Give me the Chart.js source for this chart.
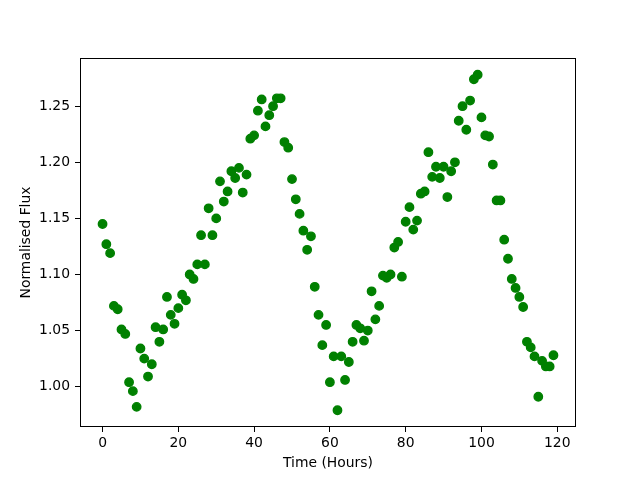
<!DOCTYPE html>
<html>
<head>
<meta charset="utf-8">
<title>Normalised Flux</title>
<script src="https://cdn.jsdelivr.net/npm/chart.js@4.4.0/dist/chart.umd.min.js"></script>
<style>
    body { margin: 0; background: #ffffff; }
    #myChart { display: block; }
</style>
</head>
<body>
<canvas id="myChart" width="640" height="480"></canvas>
<script>
//data
var hours = [0,1,2,3,4,5,6,7,8,9,10,11,12,13,14,15,16,17,18,19,
    20,21,22,23,24,25,26,27,28,29,30,31,32,33,34,35,36,37,38,39,
    40,41,42,43,44,45,46,47,48,49,50,51,52,53,54,55,56,57,58,59,
    60,61,62,63,64,65,66,67,68,69,70,71,72,73,74,75,76,77,78,79,
    80,81,82,83,84,85,86,87,88,89,90,91,92,93,94,95,96,97,98,99,
    100,101,102,103,104,105,106,107,108,109,110,111,112,113,114,115,116,117,118,119]
var flux = [1.145,1.127,1.119,1.072,1.069,1.051,1.047,1.004,0.996,0.982,
    1.034,1.025,1.009,1.020,1.053,1.040,1.051,1.080,1.064,1.056,
    1.070,1.082,1.077,1.100,1.096,1.109,1.135,1.109,1.159,1.135,
    1.150,1.183,1.165,1.174,1.192,1.186,1.195,1.173,1.189,1.221,
    1.224,1.246,1.256,1.232,1.242,1.250,1.257,1.257,1.218,1.213,
    1.185,1.167,1.154,1.139,1.122,1.134,1.089,1.064,1.037,1.055,
    1.004,1.027,0.979,1.027,1.006,1.022,1.040,1.055,1.052,1.041,
    1.050,1.085,1.060,1.072,1.099,1.097,1.100,1.124,1.129,1.098,
    1.147,1.160,1.140,1.148,1.172,1.174,1.209,1.187,1.196,1.186,
    1.196,1.169,1.192,1.200,1.237,1.250,1.229,1.255,1.274,1.278,
    1.240,1.224,1.223,1.198,1.166,1.166,1.131,1.114,1.096,1.088,
    1.080,1.071,1.040,1.035,1.027,0.991,1.023,1.018,1.018,1.028]
var xTicks = [0,20,40,60,80,100,120]
var yTicks = [1.00,1.05,1.10,1.15,1.20,1.25]

//5% margins around the data like matplotlib does
function padRange(arr){
    var lo = Math.min.apply(null, arr)
    var hi = Math.max.apply(null, arr)
    var m = (hi - lo) * 0.05
    return [lo - m, hi + m]
}
var xRange = padRange(hours)
var yRange = padRange(flux)

var points = hours.map(function(h, i){ return {x: h, y: flux[i]} })

var font = {family: "'DejaVu Sans', sans-serif", size: 13.9}

//box round the plot area
var framePlugin = {
    id: 'frame',
    afterDraw: function(chart){
        var a = chart.chartArea
        var c = chart.ctx
        c.save()
        c.strokeStyle = '#000000'
        c.lineWidth = 1
        c.strokeRect(Math.round(a.left) + 0.5, Math.round(a.top) + 0.5,
            Math.round(a.right - a.left) - 1, Math.round(a.bottom - a.top) - 1)
        c.restore()
    }
}

var ctx = document.getElementById('myChart')
var myChart = new Chart(ctx, {
    type: 'scatter',
    data: {
        datasets: [{
            label: 'flux',
            data: points,
            backgroundColor: '#008000',
            borderColor: '#008000',
            borderWidth: 1.4,
            pointRadius: 4.2,
            pointHoverRadius: 4.2
        }]
    },
    options: {
        responsive: false,
        animation: false,
        devicePixelRatio: 1,
        layout: { padding: {left: 0, top: 58, right: 64, bottom: 0} },
        plugins: {
            legend: { display: false },
            tooltip: { enabled: false }
        },
        scales: {
            x: {
                type: 'linear',
                min: xRange[0],
                max: xRange[1],
                afterFit: function(s){ s.height = 53 },
                afterBuildTicks: function(s){ s.ticks = xTicks.map(function(v){ return {value: v} }) },
                border: { display: false },
                grid: { drawOnChartArea: false, drawTicks: true, tickLength: 5, tickColor: '#000000', tickWidth: 1 },
                ticks: {
                    color: '#000000',
                    font: font,
                    padding: 3,
                    maxRotation: 0,
                    callback: function(v){ return String(v) }
                },
                title: { display: true, text: 'Time (Hours)', color: '#000000', font: font, padding: {top: 0, bottom: 8} }
            },
            y: {
                type: 'linear',
                min: yRange[0],
                max: yRange[1],
                afterFit: function(s){ s.width = 80 },
                afterBuildTicks: function(s){ s.ticks = yTicks.map(function(v){ return {value: v} }) },
                border: { display: false },
                grid: { drawOnChartArea: false, drawTicks: true, tickLength: 5, tickColor: '#000000', tickWidth: 1 },
                ticks: {
                    color: '#000000',
                    font: font,
                    padding: 5,
                    callback: function(v){ return Number(v).toFixed(2) }
                },
                title: { display: true, text: 'Normalised Flux', color: '#000000', font: font, padding: {top: 18, bottom: 0} }
            }
        }
    },
    plugins: [framePlugin]
});
</script>
</body>
</html>
